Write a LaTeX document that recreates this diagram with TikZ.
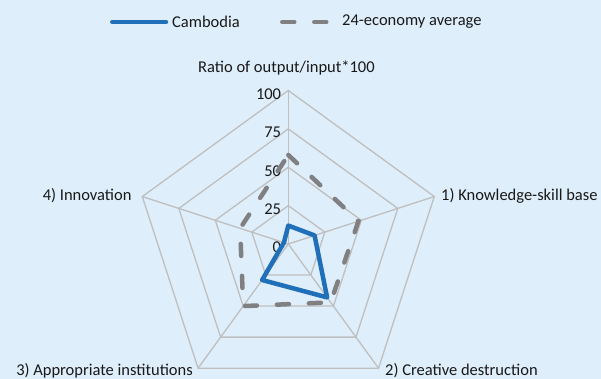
\documentclass[tikz,border=0pt]{standalone}
\usepackage{fontspec}
\setmainfont{Carlito}
\usetikzlibrary{positioning}
\definecolor{bgblue}{RGB}{222,238,250}
\definecolor{gridgray}{RGB}{191,191,191}
\definecolor{cambblue}{RGB}{31,112,184}
\definecolor{avggray}{RGB}{128,128,130}

\begin{document}
\begin{tikzpicture}[x=1pt, y=1pt, font=\fontsize{16.5}{19}\selectfont,
    grid/.style={draw=gridgray, line width=1.3pt},
    cam/.style={draw=cambblue, line width=4.5pt, line join=round, line cap=round},
    avg/.style={draw=avggray, line width=4.5pt, line cap=round, dash pattern=on 12pt off 20pt},
    lbl/.style={inner sep=0pt, text=black!90}]
    \def\u{1.535}
    \fill[bgblue] (-288.3,-135) rectangle (312.7,244);
    \useasboundingbox (-288.3,-135) rectangle (312.7,244);
    \coordinate (O) at (0,0);
    % rings and spokes
    \foreach \r in {25,50,75,100}
        \draw[grid] ({90}:{\r*\u}) -- ({18}:{\r*\u}) -- ({-54}:{\r*\u}) -- ({-126}:{\r*\u}) -- ({162}:{\r*\u}) -- cycle;
    \foreach \a in {90,18,-54,-126,162}
        \draw[grid] (O) -- ({\a}:{100*\u});
    % scale
    \foreach \r in {0,25,50,75,100}
        \node[lbl, anchor=east] (s\r) at (-7,{\r*\u-3.5}) {\r};
    % data
    \coordinate (c1) at ({90}:{12*\u});
    \coordinate (c2) at ({18}:{18*\u});
    \coordinate (c3) at ({-54}:{43*\u});
    \coordinate (c4) at ({-126}:{29*\u});
    \coordinate (c5) at ({162}:{3*\u});
    \coordinate (a1) at ({90}:{58*\u});
    \coordinate (a2) at ({18}:{48*\u});
    \coordinate (a3) at ({-54}:{47*\u});
    \coordinate (a4) at ({-126}:{50*\u});
    \coordinate (a5) at ({162}:{33*\u});
    \draw[cam] (c1) -- (c2) -- (c3) -- (c4) -- (c5) -- cycle;
    \draw[avg] (a1) -- (a2) -- (a3) -- (a4) -- (a5) -- cycle;
    % labels
    \node[lbl] (ttl) at (-1.8,176) {Ratio of output/input*100};
    \node[lbl, anchor=west] (k1) at (152.7,48) {1) Knowledge-skill base};
    \node[lbl, anchor=base west] (k2) at (96.7,-131.5) {2) Creative destruction};
    \node[lbl, anchor=base east] (k3) at (-95.3,-131.5) {3) Appropriate institutions};
    \node[lbl, anchor=east] (k4) at (-156.6,48) {4) Innovation};
    % legend
    \node[lbl, anchor=west] (leg1) at (-116.3,222) {Cambodia};
    \node[lbl, anchor=west] (leg2) at (53.7,222) {24-economy average};
    \coordinate (l1) at (-176,222);
    \coordinate (l2) at (-6,222);
    \draw[cam] (l1) -- ([xshift=-6pt]leg1.west |- l1);
    \draw[avg] (l2) -- ([xshift=-15.2pt]leg2.west |- l2);
\end{tikzpicture}
\end{document}
